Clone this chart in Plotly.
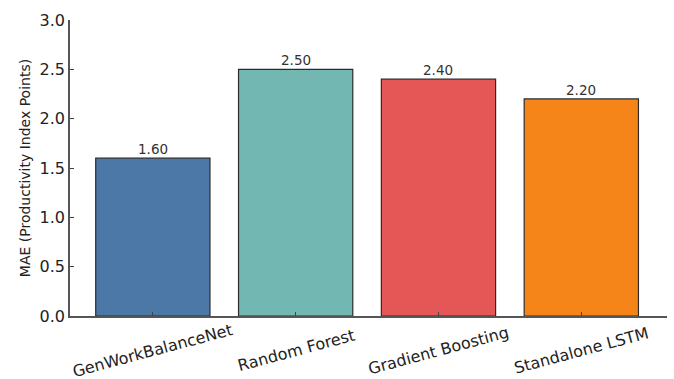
import plotly.graph_objects as go

models = ["GenWorkBalanceNet", "Random Forest", "Gradient Boosting", "Standalone LSTM"]
mae = [1.60, 2.50, 2.40, 2.20]
colors = ["#4C78A8", "#72B7B2", "#E45756", "#F58518"]
y_ticks = [0.0, 0.5, 1.0, 1.5, 2.0, 2.5, 3.0]

positions = list(range(len(models)))

fig = go.Figure(
    go.Bar(
        x=positions,
        y=mae,
        width=0.8,
        marker=dict(color=colors, line=dict(color="#2b2b2b", width=1.2)),
        hoverinfo="x+y",
    )
)

# value labels sitting just above each bar
for xi, v in zip(positions, mae):
    fig.add_annotation(
        x=xi, y=v, xref="x", yref="y",
        text=f"{v:.2f}", showarrow=False,
        xanchor="center", yanchor="bottom", yshift=-1,
        font=dict(family="DejaVu Sans", size=13.5, color="#333333"),
    )

# rotated category labels centred under each bar
for xi, name in zip(positions, models):
    fig.add_annotation(
        x=xi, y=0, xref="x", yref="paper",
        text=name, showarrow=False, textangle=-15,
        xanchor="center", yanchor="middle", yshift=-34,
        font=dict(family="DejaVu Sans", size=16, color="#222222"),
    )

fig.update_layout(
    width=674,
    height=379,
    margin=dict(l=70, r=7, t=20, b=63),
    paper_bgcolor="white",
    plot_bgcolor="white",
    showlegend=False,
    font=dict(family="DejaVu Sans", color="#222222"),
)

fig.update_xaxes(
    range=[-0.58, 3.6],
    tickmode="array",
    tickvals=positions,
    showticklabels=False,
    ticks="inside",
    ticklen=4,
    tickcolor="#444444",
    showline=True,
    linecolor="#555555",
    linewidth=1.6,
    showgrid=False,
    zeroline=False,
)

fig.update_yaxes(
    range=[0, 3.0],
    tickmode="array",
    tickvals=y_ticks,
    ticktext=[f"{v:.1f}" for v in y_ticks],
    tickfont=dict(size=16),
    ticks="inside",
    ticklen=4,
    tickcolor="#444444",
    showline=True,
    linecolor="#555555",
    linewidth=1.6,
    showgrid=False,
    zeroline=False,
    title=dict(text="MAE (Productivity Index Points)", font=dict(size=14), standoff=6),
)

fig.write_html("out.html")
